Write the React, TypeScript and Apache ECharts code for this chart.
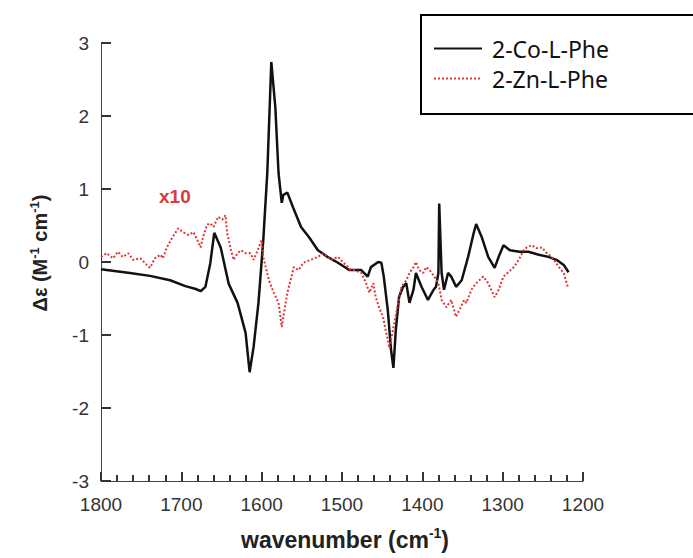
import React, { useEffect, useRef } from "react";
import * as echarts from "echarts";

const seriesNames = ["2-Co-L-Phe", "2-Zn-L-Phe"];
const scaleNote = "x10";
const xTitle = "wavenumber (cm";
const yTitle = "Δε (M";

const coWavenumber = [
  1800, 1764, 1739, 1714, 1695, 1682, 1676, 1670, 1664, 1659, 1651, 1641, 1630, 1620, 1615, 1610,
  1604, 1598, 1593, 1588, 1583, 1579, 1575, 1573, 1568, 1561, 1551, 1541, 1530, 1518, 1505, 1491,
  1476, 1468, 1464, 1455, 1451, 1448, 1443, 1439, 1436, 1433, 1429, 1424, 1420, 1416, 1411, 1408,
  1401, 1393, 1386, 1383, 1380, 1379, 1376, 1373, 1368, 1364, 1358, 1351, 1343, 1336, 1333, 1326,
  1318, 1310, 1305, 1299, 1291, 1279, 1268, 1255, 1243, 1233, 1224, 1218,
];
const coDelta = [
  -0.1, -0.15, -0.19, -0.25, -0.33, -0.37, -0.4, -0.34, -0.02, 0.4, 0.2, -0.3, -0.56, -0.97, -1.51, -1.16,
  -0.56, 0.3, 1.22, 2.74, 2.12, 1.22, 0.81, 0.92, 0.95, 0.75, 0.48, 0.34, 0.16, 0.07, -0.01, -0.11,
  -0.11, -0.2, -0.07, 0.0, -0.01, -0.2, -0.66, -1.2, -1.45, -0.93, -0.48, -0.34, -0.29, -0.56, -0.38, -0.15,
  -0.34, -0.52, -0.38, -0.34, -0.15, 0.8, -0.15, -0.38, -0.15, -0.2, -0.34, -0.25, 0.07, 0.4, 0.52, 0.34,
  0.07, -0.08, 0.07, 0.23, 0.16, 0.14, 0.14, 0.1, 0.07, 0.03, -0.04, -0.14,
];

const znWavenumber = [
  1800, 1793, 1785, 1779, 1773, 1766, 1760, 1751, 1743, 1739, 1733, 1726, 1723, 1718, 1711, 1704,
  1698, 1691, 1685, 1680, 1676, 1673, 1668, 1664, 1660, 1654, 1649, 1645, 1643, 1639, 1635, 1630,
  1626, 1620, 1614, 1610, 1605, 1600, 1598, 1591, 1585, 1579, 1575, 1573, 1568, 1564, 1560, 1554,
  1548, 1539, 1530, 1523, 1514, 1505, 1498, 1489, 1485, 1476, 1470, 1466, 1461, 1458, 1454, 1449,
  1445, 1441, 1435, 1430, 1426, 1420, 1416, 1411, 1408, 1404, 1399, 1395, 1391, 1385, 1380, 1376,
  1370, 1364, 1358, 1354, 1348, 1345, 1339, 1333, 1324, 1318, 1310, 1305, 1299, 1293, 1286, 1280,
  1274, 1270, 1264, 1258, 1251, 1245, 1239, 1230, 1224, 1219,
];
const znDelta = [
  0.07, 0.12, 0.05, 0.14, 0.07, 0.12, 0.03, 0.05, -0.04, -0.08, 0.05, 0.1, 0.05, 0.2, 0.34, 0.46,
  0.41, 0.37, 0.41, 0.3, 0.2, 0.34, 0.51, 0.53, 0.48, 0.62, 0.58, 0.64, 0.4, 0.2, 0.03, 0.12,
  0.16, 0.12, 0.12, 0.03, 0.16, 0.3, 0.07, -0.25, -0.42, -0.56, -0.89, -0.75, -0.42, -0.25, -0.07, -0.11,
  -0.01, 0.03, 0.07, 0.12, 0.03, 0.07, -0.01, -0.11, -0.11, -0.15, -0.29, -0.42, -0.29, -0.48, -0.62, -0.75,
  -0.97, -1.18, -0.84, -0.56, -0.34, -0.25, -0.15, -0.07, 0.0, -0.11, -0.15, -0.07, -0.11, -0.2, -0.29, -0.52,
  -0.62, -0.52, -0.75, -0.66, -0.52, -0.56, -0.38, -0.29, -0.2, -0.29, -0.48, -0.38, -0.2, -0.14, -0.07, 0.03,
  0.16, 0.2, 0.23, 0.19, 0.2, 0.12, 0.07, -0.07, -0.15, -0.34,
];

const pairs = (xs: number[], ys: number[]) => xs.map((x, i) => [x, ys[i]]);

export default function App() {
  const ref = useRef<HTMLDivElement>(null);
  useEffect(() => {
    if (!ref.current) return;
    const chart = echarts.init(ref.current, undefined, { renderer: "svg" });
    const labelFont = "Liberation Sans, Arial, sans-serif";
    chart.setOption({
      animation: false,
      grid: { left: 101, right: 110, top: 43, bottom: 77 },
      xAxis: {
        type: "value",
        inverse: true,
        min: 1200,
        max: 1800,
        interval: 100,
        axisLine: { show: true, onZero: false, lineStyle: { color: "#444" } },
        axisTick: { show: true, inside: true, length: 9, lineStyle: { color: "#333", width: 2 } },
        minorTick: { show: true, splitNumber: 5, length: 6, lineStyle: { color: "#333", width: 2 } },
        splitLine: { show: false },
        axisLabel: {
          fontSize: 19,
          color: "#333",
          fontFamily: labelFont,
          margin: 14,
          formatter: (v: number) => String(v),
        },
      },
      yAxis: {
        type: "value",
        min: -3,
        max: 3,
        interval: 1,
        axisLine: { show: true, onZero: false, lineStyle: { color: "#444" } },
        axisTick: { show: true, inside: true, length: 10, lineStyle: { color: "#333", width: 2 } },
        splitLine: { show: false },
        axisLabel: { fontSize: 19, color: "#333", fontFamily: labelFont, margin: 12 },
      },
      legend: {
        orient: "vertical",
        left: 421,
        top: 15,
        data: seriesNames,
        itemWidth: 48,
        itemHeight: 14,
        itemGap: 7,
        padding: [22, 86, 24, 12],
        borderColor: "#000",
        borderWidth: 2,
        borderRadius: 0,
        itemStyle: { opacity: 0 },
        textStyle: { fontSize: 23, fontFamily: "Noto Sans, sans-serif", color: "#111", padding: [0, 0, 0, 5] },
      },
      series: [
        {
          name: seriesNames[0],
          type: "line",
          data: pairs(coWavenumber, coDelta),
          symbol: "none",
          lineStyle: { color: "#111", width: 2.5 },
          itemStyle: { color: "#111" },
          z: 2,
        },
        {
          name: seriesNames[1],
          type: "line",
          data: pairs(znWavenumber, znDelta),
          symbol: "none",
          lineStyle: { color: "#e03535", width: 2, type: "dotted" },
          itemStyle: { color: "#e03535" },
          z: 3,
        },
      ],
      graphic: [
        {
          type: "text",
          left: 159,
          top: 187,
          style: {
            text: scaleNote,
            fill: "#d63c3c",
            font: "bold 19px Liberation Sans, Arial, sans-serif",
          },
        },
        {
          type: "text",
          x: 40,
          y: 253,
          rotation: Math.PI / 2,
          style: {
            text: `{b|${yTitle}}{s|-1}{b| cm}{s|-1}{b|)}`,
            align: "center",
            verticalAlign: "middle",
            fill: "#222",
            rich: {
              b: { fontSize: 20, fontWeight: "bold", fontFamily: labelFont, fill: "#222", lineHeight: 24 },
              s: { fontSize: 13, fontWeight: "bold", fontFamily: labelFont, fill: "#222", verticalAlign: "top", lineHeight: 13 },
            },
          },
        },
        {
          type: "text",
          x: 345,
          y: 540,
          style: {
            text: `{b|${xTitle}}{s|-1}{b|)}`,
            align: "center",
            verticalAlign: "middle",
            fill: "#222",
            rich: {
              b: { fontSize: 23, fontWeight: "bold", fontFamily: labelFont, fill: "#222", lineHeight: 28 },
              s: { fontSize: 14, fontWeight: "bold", fontFamily: labelFont, fill: "#222", verticalAlign: "top", lineHeight: 14 },
            },
          },
        },
      ],
    });
    return () => chart.dispose();
  }, []);
  return (
    <div
      ref={ref}
      style={{ position: "fixed", left: 0, top: 0, width: 693, height: 558, background: "#fff" }}
    />
  );
}
